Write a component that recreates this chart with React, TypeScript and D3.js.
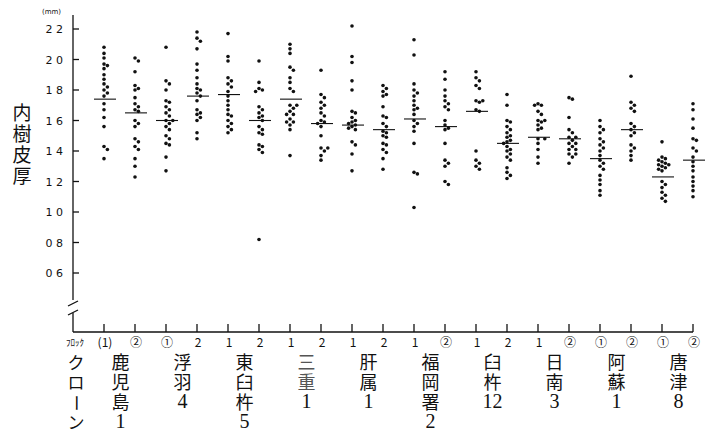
import React from 'react';
import * as d3 from 'd3';

// y axis ticks (mm); the scan drops the decimal point, so "2 2" means 2.2
const yTicks = [2.2, 2.0, 1.8, 1.6, 1.4, 1.2, 1.0, 0.8, 0.6];

// clone names and numbers, one per pair of blocks
const cloneNames = ['鹿児島', '浮羽', '東臼杵', '三重', '肝属', '福岡署', '臼杵', '日南', '阿蘇', '唐津'];
const cloneNumbers = ['1', '4', '5', '1', '1', '2', '12', '3', '1', '8'];

// block labels under each tick
const blockLabels = ['(1)', '②', '①', '2', '1', '2', '1', '2', '1', '2', '1', '②', '1', '2', '1', '②', '①', '②', '①', '②'];

// inner bark thickness (mm), one array per block
const kagoshima1 = [2.08, 2.04, 2.01, 1.97, 1.96, 1.94, 1.9, 1.87, 1.84, 1.82, 1.8, 1.78, 1.76, 1.71, 1.67, 1.62, 1.56, 1.43, 1.41, 1.35];
const kagoshima2 = [2.01, 1.99, 1.92, 1.83, 1.81, 1.8, 1.75, 1.71, 1.69, 1.67, 1.66, 1.6, 1.58, 1.56, 1.48, 1.46, 1.43, 1.41, 1.35, 1.3, 1.23];
const ukiha1 = [2.08, 1.86, 1.84, 1.8, 1.73, 1.72, 1.69, 1.67, 1.65, 1.63, 1.6, 1.6, 1.58, 1.56, 1.54, 1.5, 1.48, 1.45, 1.44, 1.36, 1.27];
const ukiha2 = [2.18, 2.14, 2.12, 2.07, 1.97, 1.93, 1.88, 1.84, 1.81, 1.8, 1.78, 1.76, 1.73, 1.67, 1.65, 1.64, 1.62, 1.6, 1.52, 1.48];
const higashiusuki1 = [2.17, 2.02, 1.99, 1.88, 1.86, 1.84, 1.82, 1.79, 1.76, 1.73, 1.7, 1.67, 1.64, 1.63, 1.6, 1.58, 1.56, 1.54, 1.52];
const higashiusuki2 = [1.99, 1.85, 1.81, 1.8, 1.79, 1.69, 1.67, 1.65, 1.63, 1.62, 1.6, 1.56, 1.54, 1.52, 1.51, 1.44, 1.43, 1.41, 1.39, 0.82];
const mie1 = [2.1, 2.07, 2.04, 1.95, 1.93, 1.88, 1.85, 1.81, 1.79, 1.7, 1.7, 1.68, 1.66, 1.64, 1.64, 1.61, 1.59, 1.59, 1.57, 1.54, 1.37];
const mie2 = [1.93, 1.77, 1.75, 1.72, 1.7, 1.68, 1.65, 1.63, 1.6, 1.59, 1.58, 1.56, 1.5, 1.42, 1.42, 1.4, 1.37, 1.34];
const kimotsuki1 = [2.22, 2.02, 1.98, 1.86, 1.8, 1.66, 1.65, 1.62, 1.6, 1.59, 1.58, 1.57, 1.56, 1.55, 1.54, 1.46, 1.44, 1.38, 1.27];
const kimotsuki2 = [1.83, 1.81, 1.79, 1.77, 1.76, 1.69, 1.63, 1.62, 1.58, 1.56, 1.53, 1.52, 1.5, 1.49, 1.45, 1.44, 1.41, 1.39, 1.35, 1.28];
const fukuoka1 = [2.13, 2.03, 1.84, 1.8, 1.78, 1.76, 1.73, 1.7, 1.68, 1.67, 1.64, 1.6, 1.58, 1.56, 1.53, 1.45, 1.26, 1.25, 1.03];
const fukuoka2 = [1.92, 1.87, 1.8, 1.76, 1.73, 1.71, 1.69, 1.67, 1.6, 1.57, 1.55, 1.54, 1.45, 1.34, 1.32, 1.3, 1.2, 1.18];
const usuki1 = [1.92, 1.88, 1.86, 1.83, 1.81, 1.73, 1.73, 1.72, 1.67, 1.66, 1.4, 1.34, 1.32, 1.3, 1.28];
const usuki2 = [1.77, 1.7, 1.6, 1.59, 1.56, 1.54, 1.52, 1.5, 1.49, 1.47, 1.46, 1.45, 1.43, 1.41, 1.4, 1.38, 1.36, 1.34, 1.29, 1.26, 1.24, 1.22];
const nichinan1 = [1.71, 1.7, 1.7, 1.66, 1.64, 1.6, 1.6, 1.59, 1.57, 1.55, 1.54, 1.48, 1.48, 1.45, 1.41, 1.36, 1.32];
const nichinan2 = [1.75, 1.74, 1.62, 1.54, 1.52, 1.49, 1.49, 1.47, 1.45, 1.45, 1.43, 1.41, 1.41, 1.38, 1.38, 1.36, 1.32];
const aso1 = [1.6, 1.56, 1.54, 1.52, 1.48, 1.46, 1.44, 1.42, 1.4, 1.37, 1.34, 1.32, 1.3, 1.28, 1.24, 1.21, 1.18, 1.14, 1.11];
const aso2 = [1.89, 1.72, 1.7, 1.68, 1.66, 1.58, 1.56, 1.54, 1.52, 1.5, 1.44, 1.42, 1.4, 1.37, 1.34];
const karatsu1 = [1.46, 1.36, 1.35, 1.34, 1.33, 1.32, 1.31, 1.31, 1.3, 1.29, 1.28, 1.27, 1.2, 1.18, 1.16, 1.13, 1.11, 1.09, 1.07];
const karatsu2 = [1.71, 1.67, 1.61, 1.55, 1.48, 1.47, 1.42, 1.4, 1.36, 1.33, 1.3, 1.27, 1.23, 1.2, 1.17, 1.14, 1.1];

// block means (short horizontal bars)
const blockMeans = [1.74, 1.65, 1.6, 1.76, 1.77, 1.6, 1.74, 1.58, 1.57, 1.54, 1.61, 1.56, 1.66, 1.45, 1.49, 1.48, 1.35, 1.54, 1.23, 1.34];

const blocks = [
  kagoshima1, kagoshima2, ukiha1, ukiha2, higashiusuki1, higashiusuki2, mie1, mie2, kimotsuki1, kimotsuki2,
  fukuoka1, fukuoka2, usuki1, usuki2, nichinan1, nichinan2, aso1, aso2, karatsu1, karatsu2,
];

const width = 709;
const height = 431;
const axisX = 73;
const axisY = 332;

const x = d3.scalePoint<number>().domain(d3.range(blocks.length)).range([104, 693]);
const y = d3.scaleLinear().domain([0.6, 2.2]).range([273, 29]);

// simple beeswarm so dots with close values sit side by side
const swarm = (values: number[], cx: number) => {
  const r = 1.8;
  const placed: { x: number; y: number }[] = [];
  const offsets = [0, 3.4, -3.4, 6.8, -6.8, 10.2];
  [...values].sort((a, b) => b - a).forEach((v) => {
    const cy = y(v);
    const off = offsets.find((o) => placed.every((p) => Math.hypot(p.x - (cx + o), p.y - cy) >= 2 * r)) ?? 0;
    placed.push({ x: cx + off, y: cy });
  });
  return placed;
};

const cjk = '"Noto Sans CJK JP", "Noto Sans", sans-serif';
const serif = '"Liberation Serif", "DejaVu Serif", serif';

export default function App() {
  const ink = '#111';

  return (
    <svg width={width} height={height} style={{ position: 'absolute', left: 0, top: 0, background: '#fff' }}>
      {/* y axis with break */}
      <g stroke={ink} strokeWidth={1.3} fill="none">
        <line x1={axisX} y1={15} x2={axisX} y2={300} />
        <line x1={68} y1={306} x2={78} y2={301} />
        <line x1={68} y1={315} x2={78} y2={310} />
        <line x1={axisX} y1={313} x2={axisX} y2={axisY} />
        <line x1={axisX} y1={axisY} x2={693} y2={axisY} />
        {yTicks.map((t) => (
          <line key={t} x1={axisX} x2={axisX + 6} y1={y(t)} y2={y(t)} />
        ))}
        {blocks.map((_, i) => (
          <line key={i} x1={x(i)} x2={x(i)} y1={axisY} y2={axisY - 8} />
        ))}
      </g>

      {yTicks.map((t) => (
        <text key={t} x={63} y={y(t) + 4} textAnchor="end" fontSize={11} fontFamily='"DejaVu Sans", sans-serif' fill={ink}>
          {t.toFixed(1).replace('.', ' ')}
        </text>
      ))}
      <text x={42} y={14} fontSize={7} fontFamily='"DejaVu Sans", sans-serif' fill={ink}>(mm)</text>

      {/* y axis title, written vertically */}
      {['内', '樹', '皮', '厚'].map((c, i) => (
        <text key={c} x={22} y={120 + i * 21} textAnchor="middle" fontSize={19} fontFamily={cjk} fill={ink}>{c}</text>
      ))}

      {/* dots and means */}
      {blocks.map((vals, i) => {
        const cx = x(i) as number;
        return (
          <g key={i}>
            {swarm(vals, cx).map((p, j) => (
              <circle key={j} cx={p.x} cy={p.y} r={1.8} fill={ink} />
            ))}
            <line x1={cx - 10} x2={cx + 12} y1={y(blockMeans[i])} y2={y(blockMeans[i])} stroke={ink} strokeWidth={1.1} />
          </g>
        );
      })}

      {/* block labels */}
      <text x={66} y={346} fontSize={9} fontFamily={cjk} fill={ink}>ﾌﾛｯｸ</text>
      {blockLabels.map((b, i) => (
        <text key={i} x={(x(i) as number) + 1} y={347} textAnchor="middle" fontSize={12} fontFamily={cjk} fill={ink}>{b}</text>
      ))}

      {/* "clone" written vertically */}
      {['ク', 'ロ', 'ー', 'ン'].map((c, i) => {
        const cy = 369 + i * 20;
        return (
          <text key={i} x={76} y={cy} textAnchor="middle" fontSize={17} fontFamily={cjk} fill={ink}
            transform={c === 'ー' ? `rotate(90, 76, ${cy - 6})` : undefined}>{c}</text>
        );
      })}

      {/* clone names, vertical, centred on each pair */}
      {cloneNames.map((name, k) => {
        const cx = ((x(2 * k) as number) + (x(2 * k + 1) as number)) / 2 + 1;
        const chars = name.split('');
        return (
          <g key={k}>
            {chars.map((c, j) => (
              <text key={j} x={cx} y={369 + j * 20} textAnchor="middle" fontSize={18} fontFamily={cjk}
                fill={k === 3 ? '#555' : ink}>{c}</text>
            ))}
            <text x={cx} y={368 + chars.length * 20} textAnchor="middle" fontSize={20} fontFamily={serif} fill={ink}>
              {cloneNumbers[k]}
            </text>
          </g>
        );
      })}
    </svg>
  );
}
